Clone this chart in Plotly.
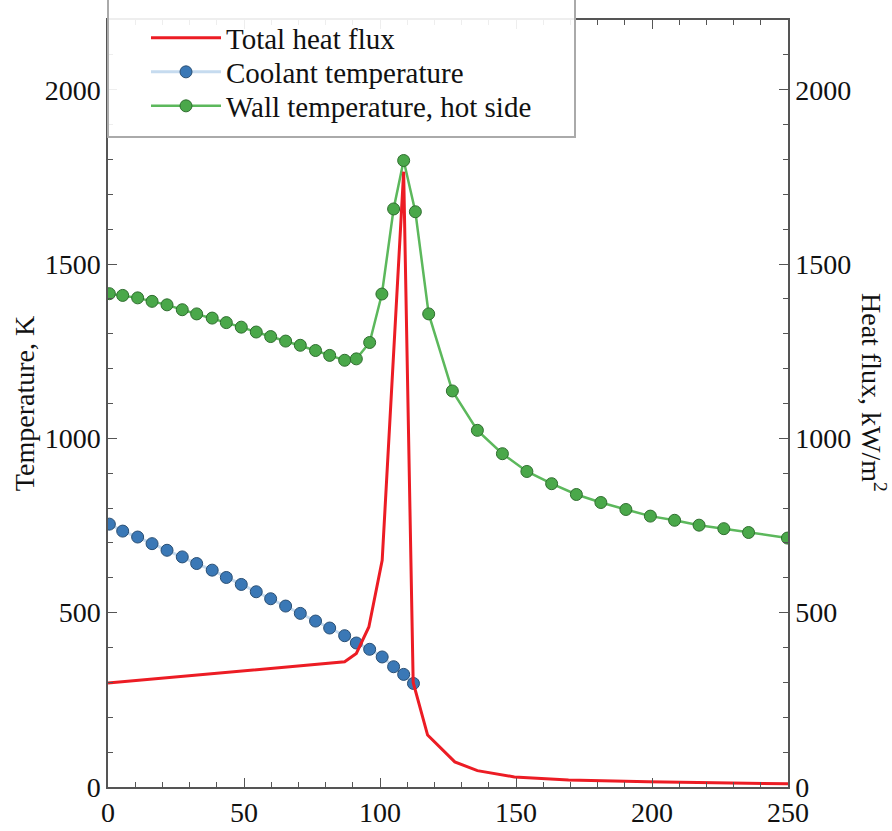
import plotly.graph_objects as go

# Coolant temperature (K)
cool_x = [0.5, 5.4, 10.9, 16.2, 21.7, 27.3, 32.6, 38.3, 43.5, 49.0, 54.5, 59.8,
          65.3, 70.7, 76.3, 81.5, 87.0, 91.3, 96.2, 100.8, 105.0, 108.7, 112.3]
cool_t = [754, 734, 717, 698, 679, 660, 641, 622, 601, 581, 560, 540,
          519, 498, 476, 456, 434, 413, 395, 373, 345, 323, 297]

# Wall temperature, hot side (K)
wall_x = [0.5, 5.4, 10.9, 16.2, 21.7, 27.3, 32.6, 38.3, 43.5, 49.0, 54.5, 59.8,
          65.3, 70.7, 76.3, 81.5, 87.0, 91.3, 96.2, 100.7, 105.0, 108.7, 113.0,
          117.9, 126.6, 135.8, 145.0, 154.0, 163.1, 172.2, 181.2, 190.4, 199.4,
          208.3, 217.3, 226.4, 235.5, 249.8]
wall_t = [1415, 1410, 1403, 1393, 1383, 1369, 1357, 1345, 1332, 1319, 1305, 1292,
          1279, 1267, 1252, 1238, 1224, 1228, 1275, 1414, 1658, 1797, 1650,
          1357, 1136, 1023, 956, 905, 870, 839, 816, 796, 777,
          765, 751, 741, 730, 714]

# Total heat flux (kW/m2)
flux_x = [0, 87.0, 91.3, 95.9, 100.8, 108.7, 112.2, 117.5, 127.5, 135.8, 149.4, 169.3, 198.6, 250]
flux_q = [298, 359, 383, 459, 650, 1765, 300, 149, 72, 47, 29, 20, 15, 9]

x_ticks = [0, 50, 100, 150, 200, 250]
y_ticks = [0, 500, 1000, 1500, 2000]

FONT = "Liberation Serif, Times New Roman, serif"
FS = 28
LFS = 29

fig = go.Figure()
fig.add_trace(go.Scatter(x=flux_x, y=flux_q, mode="lines", name="Total heat flux",
                         line=dict(color="#ec1c24", width=3), yaxis="y2", legend="legend"))
fig.add_trace(go.Scatter(x=cool_x, y=cool_t, mode="lines+markers", name="Coolant temperature",
                         line=dict(color="#c6dbef", width=3), legend="legend2",
                         marker=dict(color="#3a78b6", size=12, line=dict(color="#2a4f74", width=1))))
fig.add_trace(go.Scatter(x=wall_x, y=wall_t, mode="lines+markers", name="Wall temperature, hot side",
                         line=dict(color="#5cb85c", width=2.5), legend="legend3",
                         marker=dict(color="#4aa84a", size=12, line=dict(color="#2f6e2f", width=1))))

axis_common = dict(showgrid=False, zeroline=False, linecolor="#555", linewidth=1.5,
                   ticks="inside", tickcolor="#555", ticklen=9, tickwidth=1.2,
                   automargin=False,
                   tickfont=dict(family=FONT, size=FS, color="#111"))


def leg(row_center_px):
    return dict(x=(146 - 108) / 680, xanchor="left",
                y=(787 - row_center_px) / 767, yanchor="middle",
                bgcolor="rgba(0,0,0,0)", borderwidth=0,
                font=dict(family=FONT, size=LFS, color="#111"),
                itemwidth=70)


fig.update_layout(
    width=892, height=831,
    margin=dict(l=108, r=104, t=20, b=44),
    paper_bgcolor="white", plot_bgcolor="white",
    font=dict(family=FONT, size=FS, color="#111"),
    showlegend=True,
    legend=leg(38), legend2=leg(72), legend3=leg(106),
    xaxis=dict(range=[0, 250], tickvals=x_ticks, mirror="ticks",
               minor=dict(dtick=10, ticks="inside", ticklen=5, tickcolor="#555"),
               **axis_common),
    yaxis=dict(range=[0, 2200], tickvals=y_ticks, mirror=True,
               title=dict(text="Temperature, K", font=dict(family=FONT, size=FS), standoff=2),
               minor=dict(dtick=100, ticks="inside", ticklen=5, tickcolor="#555"),
               **axis_common),
    yaxis2=dict(range=[0, 2200], tickvals=y_ticks, overlaying="y", side="right",
                minor=dict(dtick=100, ticks="inside", ticklen=5, tickcolor="#555"),
                **axis_common),
    annotations=[dict(text="Heat flux, kW/m<sup>2</sup>", xref="paper", yref="paper",
                      x=1 + (873 - 788) / 680, y=(787 - 392) / 767,
                      xanchor="center", yanchor="middle", textangle=90, showarrow=False,
                      font=dict(family=FONT, size=FS, color="#111"))],
    shapes=[dict(type="rect", xref="paper", yref="paper",
                 x0=0, x1=(575 - 108) / 680, y0=(787 - 137) / 767, y1=1.05,
                 line=dict(color="#aaa", width=2), fillcolor="rgba(255,255,255,0.9)",
                 layer="above")],
)

fig.write_html("out.html", config={"displayModeBar": False},
               post_script="document.body.style.margin='0';document.body.style.padding='0';")
